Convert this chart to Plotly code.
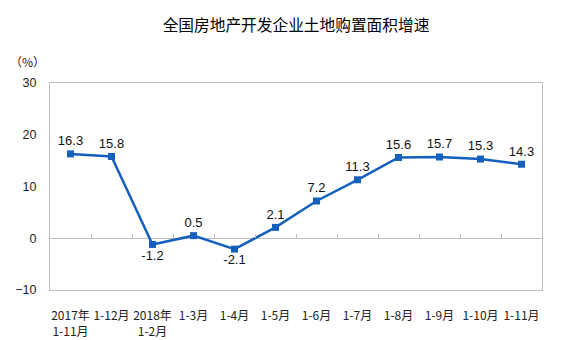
import plotly.graph_objects as go

# Land purchase area growth, cumulative year-to-date (%)
categories = ["2017年<br>1-11月", "1-12月", "2018年<br>1-2月", "1-3月", "1-4月", "1-5月",
              "1-6月", "1-7月", "1-8月", "1-9月", "1-10月", "1-11月"]
growth = [16.3, 15.8, -1.2, 0.5, -2.1, 2.1, 7.2, 11.3, 15.6, 15.7, 15.3, 14.3]
y_ticks = [-10, 0, 10, 20, 30]

title = "全国房地产开发企业土地购置面积增速"
unit = "（%）"

line_color = "#1560BD"
axis_gray = "#BFBFBF"

positions = ["bottom center" if v < 0 else "top center" for v in growth]
labels = [f"{v:.1f}" for v in growth]

fig = go.Figure()
fig.add_trace(go.Scatter(
    x=categories, y=growth,
    mode="lines+markers+text",
    line=dict(color=line_color, width=2.5),
    marker=dict(symbol="square", size=7, color=line_color),
    text=labels, textposition=positions,
    textfont=dict(family="Liberation Sans, Arial", size=13, color="#111111"),
    cliponaxis=False,
    hoverinfo="x+y",
))

# helper trace carrying the category-boundary tick axis along the zero line
n = len(categories)
boundaries = [i + 0.5 for i in range(n - 1)]
fig.add_trace(go.Scatter(
    x=list(range(n)), y=growth, xaxis="x2", yaxis="y",
    mode="markers", marker=dict(opacity=0), hoverinfo="skip", showlegend=False,
))

y_min, y_max = y_ticks[0], y_ticks[-1]

fig.update_layout(
    width=578, height=340,
    margin=dict(l=50, r=36, t=83, b=50),
    paper_bgcolor="white", plot_bgcolor="white",
    showlegend=False,
    title=dict(text=title, x=0.5, xanchor="center", xref="paper",
               y=1 - 26 / 340, yref="container", yanchor="middle",
               font=dict(family="Noto Sans CJK SC", size=15.7, color="#000000")),
    xaxis=dict(
        type="category", categoryarray=categories, range=[-0.5, n - 0.5],
        showline=True, linecolor=axis_gray, linewidth=1, mirror=True,
        showgrid=False, zeroline=False, ticks="",
        tickfont=dict(family="Noto Sans CJK SC", size=12, color="#222222"),
        ticklabelstandoff=15, automargin=False,
    ),
    xaxis2=dict(
        overlaying="x", anchor="free",
        position=(0 - y_min) / (y_max - y_min),
        range=[-0.5, n - 0.5], tickvals=boundaries,
        ticks="inside", ticklen=4, tickcolor=axis_gray, tickwidth=1,
        showticklabels=False, showline=False, showgrid=False, zeroline=False,
    ),
    yaxis=dict(
        range=[y_min, y_max], tickvals=y_ticks,
        showline=True, linecolor=axis_gray, linewidth=1, mirror=True,
        showgrid=False, zeroline=True, zerolinecolor=axis_gray, zerolinewidth=1,
        ticks="", ticklabelstandoff=10,
        tickfont=dict(family="Liberation Sans, Arial", size=12.5, color="#222222"),
    ),
    annotations=[dict(
        text=unit, xref="paper", yref="paper", x=0, y=1,
        xanchor="right", yanchor="bottom", xshift=-3, yshift=11,
        showarrow=False,
        font=dict(family="Noto Sans CJK SC", size=12, color="#222222"),
    )],
)

fig.write_html("out.html")
